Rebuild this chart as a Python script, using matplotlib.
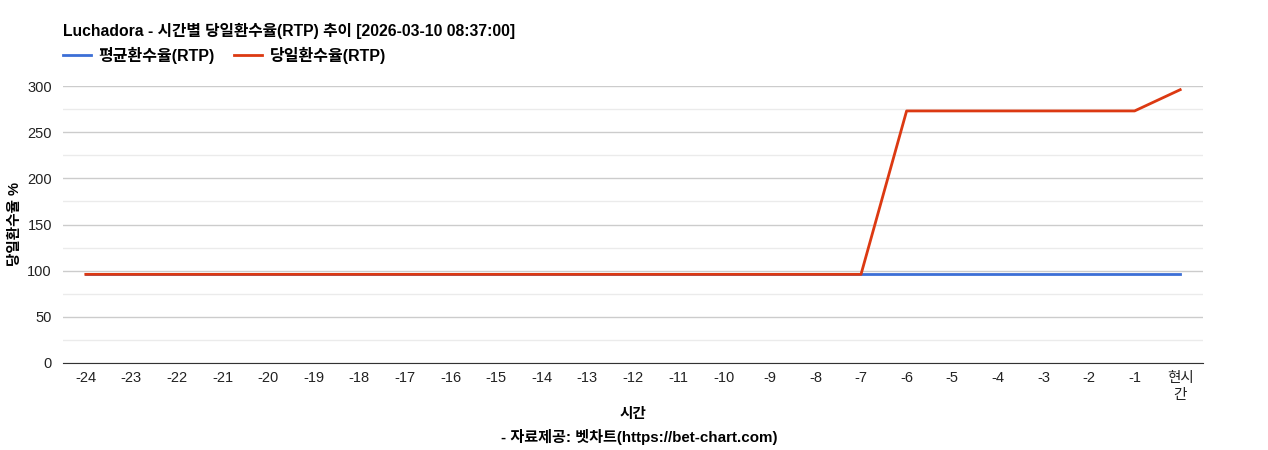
import matplotlib.pyplot as plt
from matplotlib.ticker import MultipleLocator

plt.rcParams['font.family'] = ['Liberation Sans', 'Noto Sans CJK KR', 'DejaVu Sans']

hours = [str(h) for h in range(-24, 0)] + ['현시\n간']
avg_rtp = [96] * 25
day_rtp = [96] * 18 + [273] * 6 + [296]

fig = plt.figure(figsize=(12.68, 4.5), dpi=100)
ax = fig.add_axes([63 / 1268, 1 - 363 / 450, 1140 / 1268, 277 / 450])

x = range(len(hours))
ax.plot(x, avg_rtp, color='#3c6fd6', lw=2, label='평균환수율(RTP)', zorder=3)
ax.plot(x, day_rtp, color='#dc3912', lw=2, label='당일환수율(RTP)', zorder=4)

ax.set_xlim(-0.5, len(hours) - 0.5)
ax.set_ylim(0, 300)
ax.set_xticks(list(x))
ax.set_xticklabels(hours, fontsize=10.5, color='#222222')
ax.yaxis.set_major_locator(MultipleLocator(50))
ax.yaxis.set_minor_locator(MultipleLocator(25))
ax.tick_params(axis='y', labelsize=10.5, colors='#222222', length=0, pad=8, which='both')
ax.tick_params(axis='x', length=0, pad=6)
ax.grid(axis='y', which='major', color='#cccccc', lw=1)
ax.grid(axis='y', which='minor', color='#ebebeb', lw=1)
ax.set_axisbelow(True)
for s in ['top', 'right', 'left']:
    ax.spines[s].set_visible(False)
ax.spines['bottom'].set_color('#333333')

# axis titles placed directly so the two-line tick label does not push them
fig.text(15 / 1268, 1 - 224 / 450, '당일환수율 %', rotation=90, fontsize=10.5,
         fontweight='bold', va='center', ha='center')
fig.text(633 / 1268, 1 - 414 / 450, '시간', fontsize=10.5, fontweight='bold',
         va='center', ha='center')

fig.text(63 / 1268, 1 - 31 / 450, 'Luchadora - 시간별 당일환수율(RTP) 추이 [2026-03-10 08:37:00]',
         fontsize=11.3, fontweight='bold', va='center', ha='left')
fig.text(639 / 1268, 1 - 437 / 450, '- 자료제공: 벳차트(https://bet-chart.com)',
         fontsize=10.9, fontweight='bold', va='center', ha='center')

ax.legend(loc='center left', bbox_to_anchor=(0, (363 - 55) / 277), ncol=2, frameon=False,
          prop={'size': 11.5, 'weight': 'bold'}, handlelength=1.75, handletextpad=0.45,
          columnspacing=1.25, borderaxespad=0, borderpad=0)

fig.savefig('out.png', dpi=100)
